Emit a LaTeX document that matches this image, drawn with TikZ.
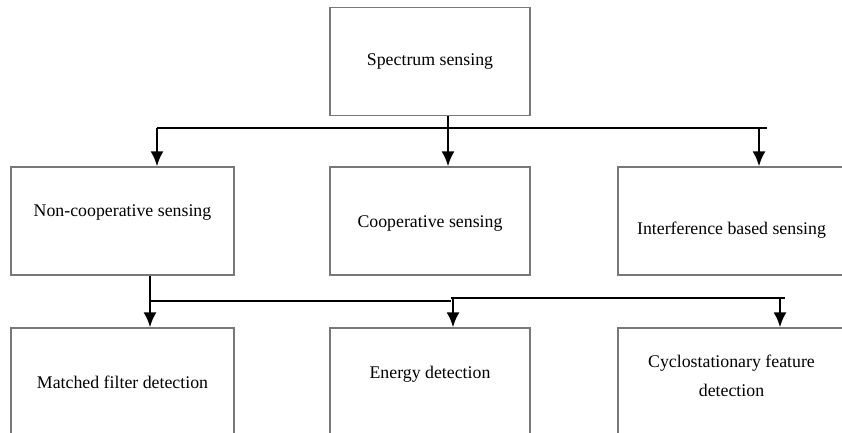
\documentclass[tikz,border=0pt]{standalone}
\usepackage{fontspec}
\setmainfont{Liberation Serif}
\usetikzlibrary{arrows.meta,positioning}
\definecolor{ssFrame}{RGB}{120,120,120}

\begin{document}
\begin{tikzpicture}[
  font=\fontsize{15.2}{24.5}\selectfont,
  n/.style={draw=ssFrame, line width=0.9pt, align=center, inner sep=3pt, minimum height=32.4mm, minimum width=66.9mm},
  m/.style={n, minimum width=60mm},
  r/.style={n, minimum width=68.1mm},
  up/.style={text depth=#1},
  down/.style={text height=#1},
  l/.style={line width=2.4pt, draw=black},
  a/.style={l, -{Latex[length=4.5mm, width=3.9mm]}}
]
\useasboundingbox (0,0) rectangle (25.26,-12.96);
\node[m] (spec) at (12.9,-1.845) {Spectrum sensing};
\node[n, up=0.6cm] (noncoop) at (3.675,-6.63) {Non-cooperative sensing};
\node[m, down=0.5cm] (coop) at (12.9,-6.63) {Cooperative sensing};
\node[r, down=0.9cm] (interf) at (21.945,-6.63) {Interference based sensing};
\node[n] (matched) at (3.675,-11.46) {Matched filter detection};
\node[m, up=0.6cm] (energy) at (12.9,-11.46) {Energy detection};
\node[r, up=0.36cm] (cyclo) at (21.945,-11.46) {Cyclostationary feature\\detection};
% upper bus
\coordinate (tl) at (4.71,-3.84);
\coordinate (tm) at (13.44,-3.84);
\coordinate (tr) at (22.77,-3.84);
\coordinate (te) at (23.01,-3.84);
\draw[l] (tm |- spec.south) -- (tm);
\draw[l] (tl) -- (te);
\draw[a] (tl) -- (tl |- noncoop.north);
\draw[a] (tm) -- (tm |- coop.north);
\draw[a] (tr) -- (tr |- interf.north);
% lower bus
\coordinate (bl) at (4.5,-9.03);
\coordinate (bk) at (13.53,-9.03);
\coordinate (bm) at (13.59,-8.94);
\coordinate (br) at (23.4,-8.94);
\coordinate (be) at (23.55,-8.94);
\draw[l] (bl |- noncoop.south) -- (bl) -- (bk);
\draw[l] (bk |- bm) -- (be);
\draw[a] (bl) -- (bl |- matched.north);
\draw[a] (bm) -- (bm |- energy.north);
\draw[a] (br) -- (br |- cyclo.north);
\end{tikzpicture}
\end{document}
